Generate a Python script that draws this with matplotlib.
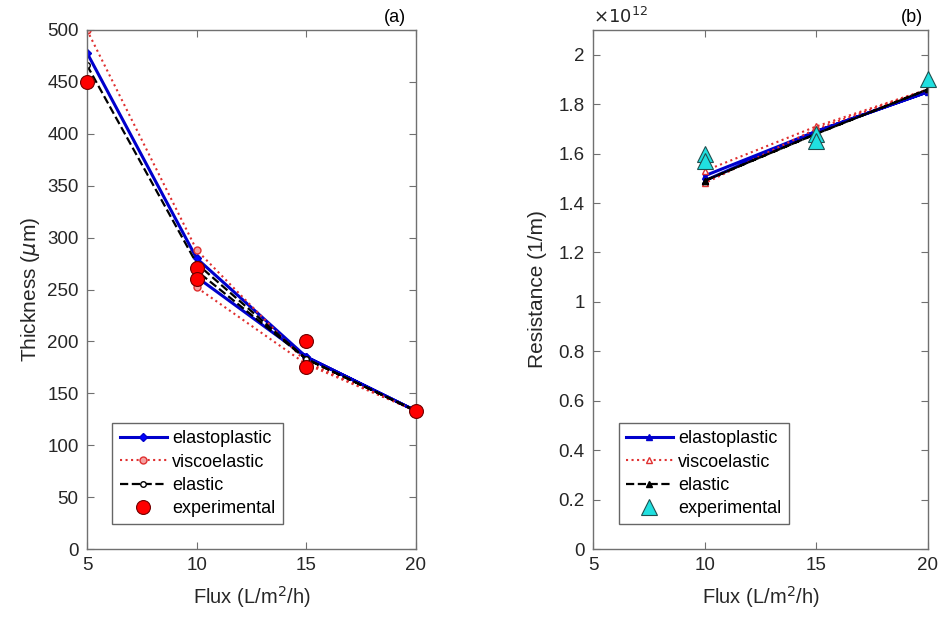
import matplotlib
matplotlib.use('Agg')
import matplotlib.pyplot as plt

plt.rcParams['font.family'] = ['Liberation Sans', 'DejaVu Sans']

# (a) thickness vs flux; the path goes out along the upper branch and back along the lower one
flux_a = [5, 10, 15, 20, 15, 10]
thk_elastoplastic = [478, 280, 185, 133, 185, 262]
thk_viscoelastic = [500, 288, 180, 133, 178, 252]
thk_elastic = [466, 275, 183, 133, 183, 268]
flux_exp_a = [5, 10, 10, 15, 15, 20]
thk_exp = [450, 271, 260, 200, 175, 133]

# (b) resistance vs flux (x 1e12 1/m)
flux_b = [10, 15, 20, 15, 10]
res_elastoplastic = [1.51, 1.69, 1.85, 1.69, 1.49]
res_viscoelastic = [1.53, 1.71, 1.86, 1.70, 1.48]
res_elastic = [1.49, 1.68, 1.86, 1.68, 1.49]
flux_exp_b = [10, 10, 15, 15, 20]
res_exp = [1.60, 1.57, 1.68, 1.65, 1.90]

fig = plt.figure(figsize=(9.42, 6.36), dpi=100)
ax1 = fig.add_axes([87/942, 1 - 549/636, 329/942, 519/636])
ax2 = fig.add_axes([593/942, 1 - 549/636, 335/942, 519/636])

gray = '#707070'
txt = '#262626'


def style(ax):
    for s in ax.spines.values():
        s.set_color(gray)
        s.set_linewidth(1.0)
    ax.tick_params(direction='in', top=True, right=True, length=5,
                   color=gray, labelsize=13.5, labelcolor=txt, pad=6)
    ax.set_xlim(5, 20)
    ax.set_xticks([5, 10, 15, 20])
    ax.set_xlabel('Flux (L/m$^2$/h)', fontsize=14.5, color=txt, labelpad=7)


ax1.plot(flux_a, thk_elastoplastic, '-', color='#0000cc', lw=2.2, marker='D', ms=4,
         mfc='#0000ff', mec='#0000cc', label='elastoplastic')
ax1.plot(flux_a, thk_viscoelastic, ':', color='#e03030', lw=1.5, marker='o', ms=5,
         mfc='#f4a0a0', mec='#e03030', label='viscoelastic')
ax1.plot(flux_a, thk_elastic, '--', color='black', lw=1.6, marker='o', ms=4,
         mfc='white', mec='black', label='elastic')
ax1.plot(flux_exp_a, thk_exp, 'o', color='red', ms=10, mec='#700000', mew=0.8,
         label='experimental', zorder=5, clip_on=False)
style(ax1)
ax1.set_ylim(0, 500)
ax1.set_yticks(range(0, 501, 50))
ax1.set_ylabel('Thickness ($\\mu$m)', fontsize=15, color=txt, labelpad=4)
leg1 = ax1.legend(loc='lower left', bbox_to_anchor=(0.05, 0.03), fontsize=13,
                  frameon=True, fancybox=False, edgecolor='#404040',
                  handlelength=2.6, borderpad=0.4, labelspacing=0.35,
                  handletextpad=0.3)
leg1.get_frame().set_linewidth(1.0)
fig.text(395/942, 1 - 17/636, '(a)', fontsize=13, color='black', ha='center', va='center')

ax2.plot(flux_b, res_elastoplastic, '-', color='#0000cc', lw=2.2, marker='^', ms=4,
         mfc='#0000cc', mec='#0000cc', label='elastoplastic')
ax2.plot(flux_b, res_viscoelastic, ':', color='#e03030', lw=1.5, marker='^', ms=5,
         mfc='white', mec='#e03030', label='viscoelastic')
ax2.plot(flux_b, res_elastic, '--', color='black', lw=1.6, marker='^', ms=4,
         mfc='black', mec='black', label='elastic')
ax2.plot(flux_exp_b, res_exp, '^', color='#20e0e0', ms=11, mec='#205050', mew=0.8,
         label='experimental', zorder=5, clip_on=False)
style(ax2)
ax2.set_ylim(0, 2.1)
yt = [0, 0.2, 0.4, 0.6, 0.8, 1, 1.2, 1.4, 1.6, 1.8, 2]
ax2.set_yticks(yt)
ax2.set_yticklabels(['%g' % v for v in yt])
ax2.set_ylabel('Resistance (1/m)', fontsize=15, color=txt, labelpad=8)
ax2.text(0.0, 1.005, '$\\times10^{12}$', transform=ax2.transAxes, fontsize=13,
         color=txt, ha='left', va='bottom')
leg2 = ax2.legend(loc='lower left', bbox_to_anchor=(0.05, 0.03), fontsize=13,
                  frameon=True, fancybox=False, edgecolor='#404040',
                  handlelength=2.6, borderpad=0.4, labelspacing=0.35,
                  handletextpad=0.3)
leg2.get_frame().set_linewidth(1.0)
fig.text(912/942, 1 - 17/636, '(b)', fontsize=13, color='black', ha='center', va='center')

fig.savefig('out.png', dpi=100, facecolor='white')
